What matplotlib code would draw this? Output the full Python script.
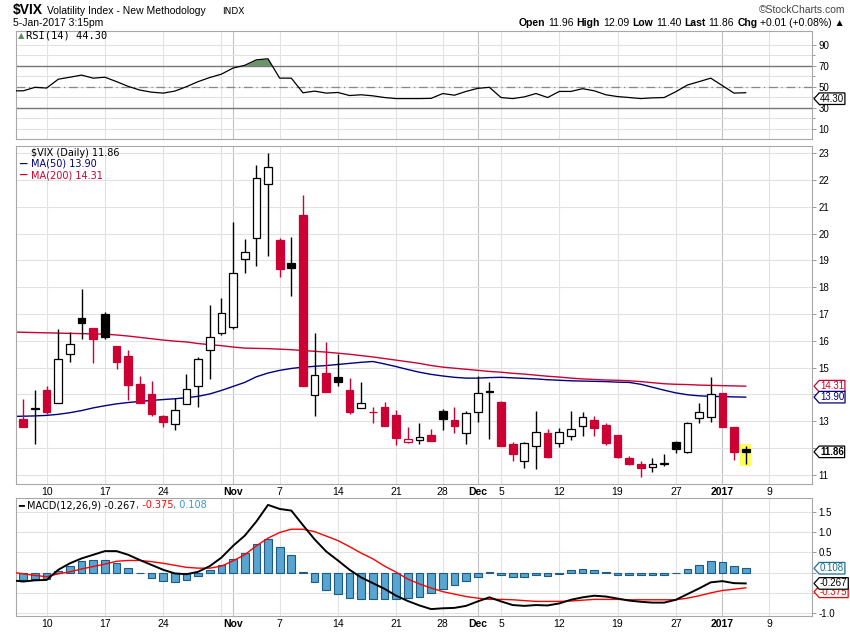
import numpy as np
import pandas as pd
import matplotlib
matplotlib.use("Agg")
import matplotlib.pyplot as plt
from matplotlib.patches import Rectangle
from matplotlib.path import Path

W, H = 850, 633
RED = "#cc0033"
NAVY = "#000080"
GRID = "#e2e2e2"
MONTH_GRID = "#c2c2c2"
SPINE = "#a8a8a8"

plt.rcParams["font.family"] = ["Liberation Sans", "DejaVu Sans"]

# trading days shown on the chart (Oct 5 2016 is only partly visible)
holidays = ["2016-11-24", "2016-12-26", "2017-01-02"]
days = pd.bdate_range("2016-10-05", "2017-01-13", freq="C", holidays=holidays)

prev_close = 13.00  # Oct 5 close, used to colour the first candle

# daily candles, Oct 6 2016 .. Jan 5 2017
opens = [13.08, 13.46, 14.17, 13.67, 15.50, 16.85, 16.47, 17.01, 15.81, 15.44,
         14.40, 14.02, 13.18, 12.88, 13.64, 14.33, 15.65, 16.29, 16.50, 19.06,
         19.83, 21.86, 19.77, 18.90, 20.69, 13.97, 14.79, 14.64, 14.15, 13.49,
         13.35, 13.52, 13.23, 12.22, 12.29, 12.49, 13.39, 13.05, 12.55, 13.36,
         14.13, 13.71, 12.14, 11.53, 12.06, 12.55, 12.18, 12.46, 12.84, 13.05,
         12.87, 12.49, 11.62, 11.41, 11.29, 11.42, 12.21, 11.85, 13.11, 13.15,
         14.05, 12.77, 11.96]
highs = [13.84, 14.15, 14.32, 16.45, 16.32, 17.94, 16.47, 17.08, 15.81, 15.66,
         14.69, 14.52, 13.23, 13.86, 14.77, 15.39, 17.34, 17.59, 20.42, 19.81,
         22.57, 23.00, 19.83, 19.87, 21.45, 16.31, 15.96, 15.51, 14.62, 14.46,
         13.52, 13.71, 13.43, 12.78, 12.95, 12.72, 13.46, 13.55, 13.39, 14.69,
         14.47, 13.76, 12.24, 12.24, 13.39, 12.70, 12.74, 13.39, 13.35, 13.20,
         12.93, 12.49, 11.71, 11.50, 11.62, 11.78, 12.28, 12.99, 13.67, 14.67,
         14.05, 12.80, 12.09]
lows = [12.78, 12.16, 13.28, 13.67, 15.23, 16.07, 15.19, 16.07, 14.96, 13.80,
        13.70, 13.20, 12.77, 12.68, 13.64, 13.55, 14.59, 16.21, 16.46, 18.52,
        18.81, 19.15, 18.38, 17.69, 14.30, 13.21, 14.11, 14.33, 13.26, 13.49,
        12.93, 12.83, 12.11, 12.18, 12.14, 12.28, 12.68, 12.58, 12.16, 12.98,
        12.34, 12.09, 11.50, 11.25, 11.22, 11.62, 12.03, 12.31, 12.46, 12.46,
        12.12, 11.62, 11.37, 10.91, 11.10, 11.34, 11.81, 11.81, 12.93, 12.99,
        12.80, 11.56, 11.40]
closes = [12.80, 13.48, 13.33, 15.32, 15.88, 16.65, 16.07, 16.15, 15.23, 14.36,
          13.70, 13.28, 12.98, 13.43, 14.21, 15.32, 16.16, 17.03, 18.52, 19.31,
          22.06, 22.48, 18.67, 18.72, 14.32, 14.72, 14.11, 14.46, 13.33, 13.67,
          13.33, 12.83, 12.37, 12.35, 12.42, 12.28, 13.10, 12.84, 13.30, 14.05,
          14.11, 12.09, 11.77, 12.18, 12.59, 11.68, 12.59, 12.70, 13.15, 12.74,
          12.18, 11.65, 11.40, 11.24, 11.41, 11.44, 11.96, 12.93, 13.34, 14.01,
          12.80, 11.85, 11.86]

# indicators, Oct 5 2016 .. Jan 5 2017
ma50 = [13.18, 13.19, 13.20, 13.22, 13.26, 13.32, 13.40, 13.50, 13.58, 13.65,
        13.70, 13.74, 13.78, 13.81, 13.84, 13.88, 13.93, 14.02, 14.15, 14.30,
        14.45, 14.66, 14.80, 14.90, 14.97, 15.02, 15.05, 15.08, 15.12, 15.16,
        15.20, 15.23, 15.14, 15.04, 14.93, 14.83, 14.75, 14.69, 14.64, 14.61,
        14.61, 14.63, 14.64, 14.62, 14.60, 14.58, 14.55, 14.53, 14.51, 14.50,
        14.49, 14.48, 14.46, 14.45, 14.38, 14.27, 14.16, 14.06, 13.99, 13.95,
        13.93, 13.92, 13.91, 13.90]
ma200 = [16.33, 16.32, 16.31, 16.30, 16.29, 16.28, 16.27, 16.26, 16.25, 16.22,
         16.18, 16.13, 16.08, 16.03, 15.99, 15.96, 15.90, 15.86, 15.82, 15.77,
         15.73, 15.72, 15.71, 15.69, 15.67, 15.64, 15.61, 15.58, 15.54, 15.50,
         15.45, 15.40, 15.34, 15.28, 15.22, 15.16, 15.08, 15.02, 14.98, 14.94,
         14.90, 14.86, 14.83, 14.79, 14.76, 14.72, 14.68, 14.65, 14.61, 14.58,
         14.56, 14.54, 14.53, 14.51, 14.48, 14.44, 14.40, 14.38, 14.37, 14.35,
         14.34, 14.33, 14.32, 14.31]
rsi = [46.0, 46.1, 49.4, 48.7, 57.1, 59.0, 61.0, 58.1, 59.0, 54.8,
       50.3, 46.8, 44.8, 43.9, 45.8, 50.0, 54.8, 58.7, 61.9, 67.7,
       70.3, 75.5, 76.5, 58.1, 58.1, 44.2, 45.8, 43.9, 44.5, 41.6,
       42.3, 41.3, 39.7, 38.7, 38.7, 38.7, 38.9, 43.5, 41.9, 45.5,
       48.4, 49.4, 39.7, 38.7, 40.3, 43.5, 39.7, 45.5, 45.5, 48.1,
       46.1, 42.3, 40.6, 39.7, 38.7, 39.4, 39.7, 45.2, 51.6, 54.8,
       58.1, 51.0, 43.9, 44.3]
macd = [-0.19, -0.22, -0.19, -0.18, 0.07, 0.23, 0.35, 0.44, 0.53, 0.53,
        0.44, 0.31, 0.19, 0.07, -0.02, -0.04, 0.02, 0.16, 0.37, 0.66,
        0.91, 1.26, 1.67, 1.57, 1.53, 1.17, 0.82, 0.52, 0.30, 0.07,
        -0.12, -0.26, -0.40, -0.57, -0.70, -0.81, -0.90, -0.88, -0.87, -0.82,
        -0.71, -0.61, -0.71, -0.80, -0.82, -0.80, -0.81, -0.76, -0.67, -0.61,
        -0.57, -0.59, -0.64, -0.69, -0.72, -0.74, -0.74, -0.67, -0.53, -0.39,
        -0.24, -0.21, -0.26, -0.267]
signal = [0.01, -0.03, -0.07, -0.10, -0.03, 0.02, 0.09, 0.15, 0.21, 0.28,
          0.30, 0.30, 0.27, 0.23, 0.18, 0.13, 0.11, 0.11, 0.16, 0.29,
          0.44, 0.66, 0.85, 0.99, 1.07, 1.07, 1.01, 0.90, 0.79, 0.64,
          0.48, 0.34, 0.16, 0.01, -0.16, -0.28, -0.38, -0.47, -0.53, -0.59,
          -0.63, -0.66, -0.66, -0.67, -0.69, -0.71, -0.71, -0.71, -0.70, -0.68,
          -0.66, -0.66, -0.66, -0.67, -0.67, -0.67, -0.67, -0.67, -0.63, -0.57,
          -0.50, -0.44, -0.41, -0.375]
hist = [-0.19, -0.18, -0.16, -0.15, 0.05, 0.16, 0.29, 0.31, 0.31, 0.23,
        0.11, -0.01, -0.14, -0.21, -0.24, -0.18, -0.09, 0.07, 0.18, 0.34,
        0.48, 0.71, 0.83, 0.62, 0.44, 0.02, -0.24, -0.44, -0.53, -0.63,
        -0.66, -0.66, -0.66, -0.66, -0.63, -0.59, -0.51, -0.41, -0.30, -0.21,
        -0.10, 0.01, -0.06, -0.11, -0.11, -0.07, -0.09, -0.04, 0.07, 0.09,
        0.07, 0.01, -0.05, -0.07, -0.07, -0.07, -0.06, -0.01, 0.09, 0.19,
        0.29, 0.25, 0.16, 0.108]

# ---- x axis: first trading day of each week / month ----
pos = np.arange(len(days))
wk = days.to_period("W")
mo = days.to_period("M")
week_starts = [i for i in pos[1:] if wk[i] != wk[i - 1]]
month_starts = [i for i in pos[1:] if mo[i] != mo[i - 1]]
ticks = sorted(set(week_starts) | set(month_starts))
labels = []
for t in ticks:
    d = days[t]
    if t in month_starts:
        labels.append(str(d.year) if d.month == 1 else d.strftime("%b"))
    elif any(abs(t - m) <= 1 for m in month_starts):
        labels.append("")
    else:
        labels.append(str(d.day))


def tag_shape(x0, y0, width, height, mutation_size):
    pad = 0.08 * mutation_size
    x0, y0 = x0 - pad, y0 - pad
    width, height = width + 2 * pad, height + 2 * pad
    tip = height * 0.45
    verts = [(x0 - tip, y0 + height / 2), (x0, y0 + height), (x0 + width, y0 + height),
             (x0 + width, y0), (x0, y0), (x0 - tip, y0 + height / 2)]
    return Path(verts, [Path.MOVETO] + [Path.LINETO] * 4 + [Path.CLOSEPOLY])


def value_tag(a, v, text, color, bold=False, nudge=0):
    a.annotate(text, xy=(1, v), xycoords=a.get_yaxis_transform(), xytext=(8, nudge),
               textcoords="offset pixels", va="center", ha="left", fontsize=7,
               color=color, fontweight="bold" if bold else "normal",
               bbox=dict(boxstyle=tag_shape, fc="white", ec=color, lw=0.9),
               annotation_clip=False, zorder=6)


def right_ticks(a, values, fmt, tag_values, gap):
    # labels that sit under a value tag are hidden, as on the original chart
    a.set_yticks(values, ["" if any(abs(v - tv) < gap for tv in tag_values) else fmt(v)
                          for v in values])


def style(a, show_labels=True):
    for s in a.spines.values():
        s.set_color(SPINE)
        s.set_linewidth(0.8)
    a.set_xlim(0.37, 68.69)
    a.yaxis.tick_right()
    a.set_axisbelow(True)
    a.tick_params(axis="y", which="both", direction="out", length=3, width=0.6,
                  color="#888888", labelsize=7, pad=1.5)
    a.tick_params(axis="y", which="minor", length=2)
    a.tick_params(axis="x", length=0, labelsize=7.5, pad=2)
    a.set_xticks(ticks, labels if show_labels else [""] * len(ticks))
    if show_labels:
        for lab in a.get_xticklabels():
            if not lab.get_text().isdigit() or len(lab.get_text()) == 4:
                lab.set_fontweight("bold")
    for t in ticks:
        a.axvline(t, color=MONTH_GRID if t in month_starts else GRID, lw=0.8, zorder=0.4)
    a.grid(axis="y", which="both", color=GRID, lw=0.8)


fig = plt.figure(figsize=(W / 100, H / 100), dpi=100)


def axes_box(top, bottom, left=16, right=812):
    return [left / W, 1 - bottom / H, (right - left) / W, (bottom - top) / H]


ax_rsi = fig.add_axes(axes_box(31, 139))
ax = fig.add_axes(axes_box(146, 484))
ax_macd = fig.add_axes(axes_box(498, 616))

xi = np.arange(len(rsi))

# ---- RSI panel ----
r = np.array(rsi)
ax_rsi.fill_between(xi, r, 70, where=r >= 70, interpolate=True, color="#6a956a",
                    lw=0, zorder=2)
ax_rsi.axhline(70, color="#777777", lw=1.0, zorder=1)
ax_rsi.axhline(30, color="#777777", lw=1.0, zorder=1)
ax_rsi.axhline(50, color="#888888", lw=0.9, ls=(0, (7, 3, 1, 3)), zorder=1)
ax_rsi.plot(xi, r, color="black", lw=0.9, zorder=3)
ax_rsi.set_ylim(0.3, 102.9)
ax_rsi.set_yticks([10, 30, 50, 70, 90])
ax_rsi.set_yticks([20, 40, 60, 80], minor=True)
style(ax_rsi, show_labels=False)
ax_rsi.annotate("▲", xy=(0, 1), xycoords="axes fraction", xytext=(2, -5),
                textcoords="offset pixels", va="center", fontsize=6, color="#5f8c5f",
                family="DejaVu Sans")
ax_rsi.annotate(f"RSI(14) {rsi[-1]:.2f}", xy=(0, 1), xycoords="axes fraction",
                xytext=(10, -5), textcoords="offset pixels", va="center",
                fontsize=7.5, family="DejaVu Sans Mono")
value_tag(ax_rsi, rsi[-1], f"{rsi[-1]:.2f}", "black", nudge=-6)

# ---- price panel ----
o, h, l, c = map(np.array, (opens, highs, lows, closes))
cx = np.arange(1, len(c) + 1)
prev = np.r_[prev_close, c[:-1]]
col = np.where(c >= prev, "black", RED)
face = np.where(c > o, "white", col)
ax.add_patch(Rectangle((cx[-1] - 0.45, l[-1] - 0.06), 0.9, h[-1] - l[-1] + 0.12,
                       fc="#ffff5a", ec="none", zorder=2))
ax.plot(xi, ma200, color=RED, lw=1.0, zorder=2.5)
ax.plot(xi, ma50, color=NAVY, lw=1.0, zorder=2.5)
ax.vlines(cx, l, h, colors=col, lw=1.0, zorder=3)
ax.bar(cx, np.maximum(np.abs(c - o), 0.03), bottom=np.minimum(o, c), width=0.66,
       color=face, edgecolor=col, linewidth=0.9, zorder=4)
ax.set_ylim(10.66, 23.27)
right_ticks(ax, list(range(11, 24)), str, [ma200[-1], ma50[-1], closes[-1]], 0.25)
style(ax)

for dy, s, color in [(0, f"$VIX (Daily) {closes[-1]:.2f}", "black"),
                     (11, f"MA(50) {ma50[-1]:.2f}", NAVY),
                     (22, f"MA(200) {ma200[-1]:.2f}", RED)]:
    ax.annotate(s, xy=(0, 1), xycoords="axes fraction", xytext=(15, -7 - dy),
                textcoords="offset pixels", va="center", fontsize=7, color=color,
                family="DejaVu Sans")
    if dy:
        ax.annotate("━━", xy=(0, 1), xycoords="axes fraction", xytext=(3, -7 - dy),
                    textcoords="offset pixels", va="center", fontsize=5, color=color,
                    family="DejaVu Sans")
value_tag(ax, ma200[-1], f"{ma200[-1]:.2f}", RED)
value_tag(ax, ma50[-1], f"{ma50[-1]:.2f}", NAVY)
value_tag(ax, closes[-1], f"{closes[-1]:.2f}", "black", bold=True)

# ---- MACD panel ----
ax_macd.bar(xi, hist, width=0.66, color="#57a5d0", edgecolor="#1d5b86", lw=0.8, zorder=2)
ax_macd.plot(xi, signal, color="#ff0000", lw=1.0, zorder=3)
ax_macd.plot(xi, macd, color="black", lw=1.4, zorder=4)
ax_macd.set_ylim(-1.07, 1.84)
right_ticks(ax_macd, [-1.0, -0.5, 0.0, 0.5, 1.0, 1.5], lambda v: f"{v:.1f}",
            [hist[-1], signal[-1], macd[-1]], 0.2)
style(ax_macd)
t1 = ax_macd.annotate(f"━ MACD(12,26,9) {macd[-1]:.3f}", xy=(0, 1), xycoords="axes fraction",
                      xytext=(2, -7), textcoords="offset pixels", va="center",
                      fontsize=7, family="DejaVu Sans")
t2 = ax_macd.annotate(f", {signal[-1]:.3f}", xy=(1, 0), xycoords=t1, va="bottom",
                      fontsize=7, color="#ff0000", family="DejaVu Sans")
ax_macd.annotate(f", {hist[-1]:.3f}", xy=(1, 0), xycoords=t2, va="bottom",
                 fontsize=7, color="#3399cc", family="DejaVu Sans")
value_tag(ax_macd, hist[-1], f"{hist[-1]:.3f}", "#1f6f8f")
value_tag(ax_macd, signal[-1], f"{signal[-1]:.3f}", "#ff0000", nudge=-4)
value_tag(ax_macd, macd[-1], f"{macd[-1]:.3f}", "black")

# ---- header ----
narrow = ["Liberation Sans Narrow", "Liberation Sans", "DejaVu Sans"]
fig.text(13 / W, 1 - 14 / H, "$VIX", fontsize=10, fontweight="bold", va="baseline")
fig.text(47 / W, 1 - 14 / H, "Volatility Index - New Methodology", fontsize=7.5,
         va="baseline")
fig.text(222 / W, 1 - 14 / H, "INDX", fontsize=6.5, va="baseline", family="DejaVu Sans")
fig.text(13 / W, 1 - 26 / H, "5-Jan-2017 3:15pm", fontsize=7.5, va="baseline")
fig.text(845 / W, 1 - 13 / H, "©StockCharts.com", fontsize=7.5, va="baseline", ha="right",
         color="#444444")

pieces = [("Open", True), ("11.96", False), ("High", True), ("12.09", False),
          ("Low", True), ("11.40", False), ("Last", True), ("11.86", False),
          ("Chg", True), ("+0.01 (+0.08%) ▲", False)]
renderer = fig.canvas.get_renderer()
x = 845
for s, bold in reversed(pieces):
    t = fig.text(x / W, 1 - 26 / H, s, fontsize=7.5, va="baseline", ha="right",
                 family=narrow, fontweight="bold" if bold else "normal")
    x = t.get_window_extent(renderer).x0 - 3

fig.savefig("out.png", dpi=100)
